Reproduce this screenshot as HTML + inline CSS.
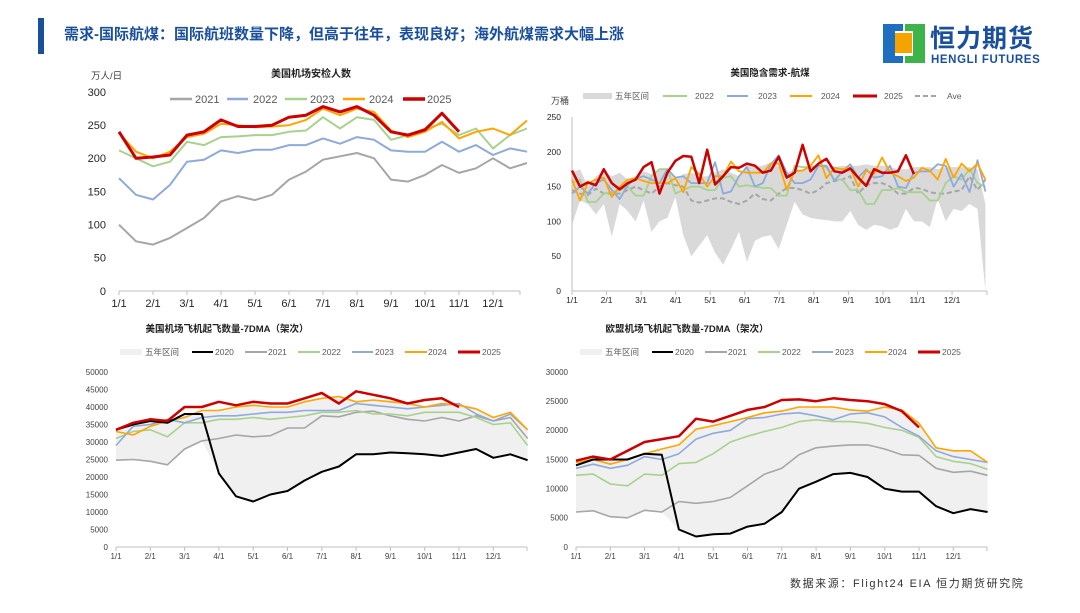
<!DOCTYPE html>
<html><head><meta charset="utf-8">
<style>
html,body{margin:0;padding:0;background:#fff;}
body{width:1080px;height:608px;overflow:hidden;position:relative;font-family:"Liberation Sans","Noto Sans CJK SC",sans-serif;}
svg text{font-family:"Liberation Sans","Noto Sans CJK SC",sans-serif;}
</style></head>
<body>
<svg id="main" width="1080" height="608" viewBox="0 0 1080 608" xmlns="http://www.w3.org/2000/svg">
  <rect x="38" y="18" width="6" height="36" fill="#1a4f9c"/>
  <text x="64" y="39" font-size="15" font-weight="bold" fill="#1a4f9c">需求-国际航煤：国际航班数量下降，但高于往年，表现良好；海外航煤需求大幅上涨</text>
  <g>
    <rect x="883" y="24" width="12" height="39" fill="#1f6fc0"/>
    <rect x="883" y="24" width="20" height="7" fill="#1f6fc0"/>
    <rect x="883" y="56" width="20" height="7" fill="#1f6fc0"/>
    <rect x="913" y="24" width="12" height="39" fill="#3cb44a"/>
    <rect x="905" y="24" width="20" height="7" fill="#3cb44a"/>
    <rect x="905" y="56" width="20" height="7" fill="#3cb44a"/>
    <rect x="895" y="33" width="17" height="20" fill="#f5a300"/>
    <text x="930" y="47" font-size="25" font-weight="bold" fill="#1a4f9c" letter-spacing="1">恒力期货</text>
    <text x="931" y="63" font-size="11.5" font-weight="bold" fill="#1a4f9c" letter-spacing="0.6">HENGLI FUTURES</text>
  </g>
  <text x="790" y="587" font-size="11" fill="#333" letter-spacing="1.6">数据来源：Flight24 EIA 恒力期货研究院</text>
  <g id="c1"></g>
  <g id="c2"></g>
  <g id="c3"></g>
  <g id="c4"></g>
</svg>
<script>
// ---------- shared categories ----------
const monthLabels = ["1/1","2/1","3/1","4/1","5/1","6/1","7/1","8/1","9/1","10/1","11/1","12/1"];
// semi-monthly sample grid (month index 0..12, step 0.5) for charts 1,3,4
const halfMonthT = [0,0.5,1,1.5,2,2.5,3,3.5,4,4.5,5,5.5,6,6.5,7,7.5,8,8.5,9,9.5,10,10.5,11,11.5,12];

// ---------- chart 1: US airport screening (万人/日) ----------
const c1Ticks = [0,50,100,150,200,250,300];
const c1_2021 = [100,75,70,80,95,110,135,143,137,145,168,180,198,203,208,200,168,165,175,190,178,185,200,185,193];
const c1_2022 = [170,145,138,160,195,198,212,208,213,213,220,220,230,222,232,228,212,210,210,225,210,220,205,215,210];
const c1_2023 = [212,200,188,195,225,220,232,233,235,235,240,242,262,245,262,258,228,235,245,252,235,245,215,235,245];
const c1_2024 = [238,210,200,210,232,237,252,250,247,248,250,258,275,265,275,270,242,232,240,255,230,240,245,235,257];
const c1_2025 = [240,200,202,205,235,240,258,248,248,250,262,265,278,270,278,265,240,235,243,268,240];

// ---------- chart 2: US implied jet fuel demand (万桶), weekly ----------
const c2Ticks = [0,50,100,150,200,250];
const c2_2022 = [155,160,128,128,140,142,145,150,137,137,165,175,175,140,145,150,150,145,145,163,165,150,152,150,148,148,137,137,180,178,178,180,178,160,160,145,145,125,125,145,145,148,142,142,142,130,130,155,165,160,175,155,150];
const c2_2023 = [140,150,140,155,160,145,132,152,162,165,160,155,175,163,165,155,155,155,185,140,143,165,178,150,155,182,195,170,155,155,160,180,180,158,172,182,163,175,163,165,180,150,148,170,172,172,182,180,150,168,142,188,143];
const c2_2024 = [160,130,155,160,163,135,150,160,162,158,155,155,155,162,142,178,168,150,165,165,186,172,170,170,170,183,183,146,172,173,180,195,162,177,175,177,150,173,168,192,170,165,158,163,177,173,160,190,163,183,172,183,160];
const c2_2025 = [173,150,156,152,175,155,146,155,160,178,185,140,170,187,194,193,155,203,153,165,178,177,183,180,170,173,193,163,170,210,172,183,190,172,170,176,163,151,175,170,170,172,195,168];
const c2_ave  = [145,140,138,147,140,140,140,145,150,145,140,150,155,152,150,130,127,130,133,133,128,125,130,140,132,130,140,148,148,145,140,145,155,158,160,165,140,152,155,155,150,140,140,148,147,142,140,140,143,145,165,145,160];
const c2_bandHi = [170,175,150,165,172,165,170,160,165,172,168,175,175,160,168,170,165,165,170,175,170,165,182,178,180,185,178,170,175,175,180,180,180,178,180,180,180,182,180,180,178,175,175,178,178,178,175,178,178,178,178,175,125];
const c2_bandLo = [95,130,125,110,125,78,125,115,100,130,85,100,105,135,80,50,65,80,55,38,60,85,42,72,78,80,60,95,128,110,105,103,102,100,100,115,95,88,95,93,88,92,118,100,100,92,132,100,118,115,125,118,0];

// ---------- chart 3: US flights 7DMA ----------
const c3Ticks = [0,5000,10000,15000,20000,25000,30000,35000,40000,45000,50000];
const c3_2020 = [33500,35000,36000,35500,38000,38000,21000,14500,13000,15000,16000,19000,21500,23000,26500,26500,27000,26800,26500,26000,27000,28000,25500,26500,24800];
const c3_2021 = [24800,25000,24500,23500,28000,30300,31000,32000,31500,31800,34000,34000,37500,37200,38500,38800,37500,36500,36000,37000,36000,37500,36000,37000,31000];
const c3_2022 = [31000,33000,33500,31500,35500,35500,36500,36500,37000,36500,37000,37500,38500,38500,39000,38000,38000,37500,38500,38500,38500,37000,35000,35500,29000];
const c3_2023 = [29000,34500,35000,36500,35500,37000,37500,37500,38000,38500,38500,39000,39000,39000,41000,40500,40000,39500,40000,40500,41000,38000,36000,38000,33500];
const c3_2024 = [33000,32000,34500,36000,37000,39000,39000,40000,40500,40000,40000,41500,42500,43000,41500,42000,41500,41000,40000,41000,40500,39500,37000,38500,33500];
const c3_2025 = [33500,35500,36500,36000,40000,40000,41500,40500,41500,41000,41000,42500,44000,41000,44500,43500,42500,41000,42000,42500,40000];

// ---------- chart 4: EU flights 7DMA ----------
const c4Ticks = [0,5000,10000,15000,20000,25000,30000];
const c4_2020 = [14000,15000,15000,15000,16000,15800,3000,1800,2200,2300,3500,4000,6000,10000,11200,12500,12700,12000,10000,9500,9500,7000,5800,6500,6000];
const c4_2021 = [6000,6200,5200,5000,6300,6000,7800,7500,7800,8500,10500,12500,13500,15800,17000,17300,17500,17500,16800,15800,15700,13500,12800,13000,12300];
const c4_2022 = [12300,12500,10800,10500,12500,12300,14300,14500,16000,18000,19000,19800,20500,21500,21800,21500,21500,21200,20500,20000,18800,15500,14700,14300,13300];
const c4_2023 = [13500,14200,13500,14000,15500,15000,16000,18500,19500,20000,22000,22200,22800,23000,22500,21800,22800,23000,22300,20500,19000,16500,15500,15000,14500];
const c4_2024 = [14500,15000,14200,15000,16000,16800,17500,20200,20800,21500,22200,23000,23300,24000,24000,24000,23500,23300,24000,23500,21200,17000,16500,16500,14500];
const c4_2025 = [14800,15500,15000,16500,18000,18500,19000,22000,21500,22500,23500,24000,25200,25300,25000,25500,25200,25000,24500,23300,20500];

const NS = "http://www.w3.org/2000/svg";
function mk(parent, tag, attrs){
  const e = document.createElementNS(NS, tag);
  for (const k in attrs) e.setAttribute(k, attrs[k]);
  parent.appendChild(e);
  return e;
}
function axisX(x0, mw){ return t => x0 + t * mw; }
function axisY(y0, y1, vmax){ return v => y0 - (v / vmax) * (y0 - y1); }
function pathFrom(ts, vs, sx, sy){
  let d = "";
  for (let i = 0; i < vs.length; i++){
    if (vs[i] == null) continue;
    d += (d ? "L" : "M") + sx(ts[i]).toFixed(1) + "," + sy(vs[i]).toFixed(1);
  }
  return d;
}
function drawLine(g, name, ts, vs, sx, sy, color, w, dash){
  const p = mk(g, "path", {d: pathFrom(ts, vs, sx, sy), fill: "none", stroke: color, "stroke-width": w, "stroke-linejoin": "round"});
  if (dash) p.setAttribute("stroke-dasharray", dash);
  
  
  return p;
}
function drawBand(g, name, ts, hi, lo, sx, sy, color){
  let d = "";
  for (let i = 0; i < hi.length; i++) d += (i ? "L" : "M") + sx(ts[i]).toFixed(1) + "," + sy(hi[i]).toFixed(1);
  for (let i = lo.length - 1; i >= 0; i--) d += "L" + sx(ts[i]).toFixed(1) + "," + sy(lo[i]).toFixed(1);
  d += "Z";
  const p = mk(g, "path", {d: d, fill: color, stroke: "none"});
  
  
}
function drawAxes(g, o){
  const sx = o.sx, sy = o.sy;
  const ax = mk(g, "line", {x1: o.xa, y1: sy(0), x2: o.xb, y2: sy(0), stroke: "#bfbfbf", "stroke-width": 1});
  
  
  if (o.yAxisLine){
    const ay = mk(g, "line", {x1: o.xa, y1: sy(0), x2: o.xa, y2: sy(o.ticks[o.ticks.length-1]), stroke: "#bfbfbf", "stroke-width": 1});
    
    
  }
  for (let i = 0; i < monthLabels.length; i++){
    const x = sx(i);
    mk(g, "line", {x1: x, y1: sy(0), x2: x, y2: sy(0) + 4, stroke: "#bfbfbf", "stroke-width": 1});
    const t = mk(g, "text", {x: x, y: o.xLabelY, "font-size": o.fs, fill: o.tc, "text-anchor": "middle"});
    t.textContent = monthLabels[i];
    
    
  }
  mk(g, "line", {x1: o.xb, y1: sy(0), x2: o.xb, y2: sy(0) + 4, stroke: "#bfbfbf", "stroke-width": 1});
  for (const v of o.ticks){
    const t = mk(g, "text", {x: o.yLabelX, y: sy(v) + o.fs * 0.35, "font-size": o.fs, fill: o.tc, "text-anchor": "end"});
    t.textContent = v;
    
    
  }
}
function legendLine(g, x1, x2, y, color, w, label, tx, fs, dash){
  const lg = mk(g, "g", {});
  
  
  const l = mk(lg, "line", {x1: x1, y1: y, x2: x2, y2: y, stroke: color, "stroke-width": w});
  if (dash) l.setAttribute("stroke-dasharray", dash);
  const t = mk(lg, "text", {x: tx, y: y + fs * 0.36, "font-size": fs, fill: "#595959"});
  t.textContent = label;
}
function legendBox(g, x1, x2, y, color, label, tx, fs){
  const lg = mk(g, "g", {});
  
  
  mk(lg, "rect", {x: x1, y: y - 3, width: x2 - x1, height: 6, fill: color});
  const t = mk(lg, "text", {x: tx, y: y + fs * 0.36, "font-size": fs, fill: "#595959"});
  t.textContent = label;
}
function title(g, x, y, s, fs){
  const t = mk(g, "text", {x: x, y: y, "font-size": fs, "font-weight": "bold", fill: "#222", "text-anchor": "middle"});
  t.textContent = s;
  
  
}
function unit(g, x, y, s, fs){
  const t = mk(g, "text", {x: x, y: y, "font-size": fs, fill: "#404040"});
  t.textContent = s;
  
  
}

const C = {grey: "#a6a6a6", blue: "#8eaadb", green: "#a9d18e", orange: "#ffa500", red: "#cc0000", black: "#000"};

// ===== chart 1 =====
(function(){
  const g = document.getElementById("c1");
  const sx = axisX(119, 34), sy = axisY(291, 92, 300);
  title(g, 311, 77, "美国机场安检人数", 10);
  unit(g, 91, 79, "万人/日", 9.5);
  drawAxes(g, {sx, sy, xa: 119, xb: 520, ticks: c1Ticks, xLabelY: 307, yLabelX: 106, fs: 11, tc: "#262626"});
  legendLine(g, 170, 192, 99, C.grey, 2.5, "2021", 195, 11);
  legendLine(g, 227, 248, 99, C.blue, 2.5, "2022", 253, 11);
  legendLine(g, 285, 307, 99, C.green, 2.5, "2023", 310, 11);
  legendLine(g, 343, 365, 99, C.orange, 2.5, "2024", 369, 11);
  legendLine(g, 403, 425, 99, C.red, 3.5, "2025", 427, 11);
  drawLine(g, "series-2021", halfMonthT, c1_2021, sx, sy, C.grey, 2);
  drawLine(g, "series-2022", halfMonthT, c1_2022, sx, sy, C.blue, 2);
  drawLine(g, "series-2023", halfMonthT, c1_2023, sx, sy, C.green, 2);
  drawLine(g, "series-2024", halfMonthT, c1_2024, sx, sy, C.orange, 2);
  drawLine(g, "series-2025", halfMonthT, c1_2025, sx, sy, C.red, 3);
})();

// ===== chart 2 =====
(function(){
  const g = document.getElementById("c2");
  const sx = axisX(572, 34.55), sy = axisY(291, 117, 250);
  const wk = c2_bandHi.map((_, i) => i * 7 / 30.42);
  title(g, 770, 76, "美国隐含需求-航煤", 9.5);
  unit(g, 551, 104, "万桶", 9);
  drawBand(g, "five-year-range", wk, c2_bandHi, c2_bandLo, sx, sy, "#d9d9d9");
  drawAxes(g, {sx, sy, xa: 572, xb: 987, ticks: c2Ticks, xLabelY: 303, yLabelX: 561, fs: 8.5, tc: "#262626", yAxisLine: true});
  legendBox(g, 583, 612, 96, "#d9d9d9", "五年区间", 615, 8.5);
  legendLine(g, 663, 687, 96, C.green, 2, "2022", 695, 8.5);
  legendLine(g, 727, 748, 96, C.blue, 2, "2023", 758, 8.5);
  legendLine(g, 790, 812, 96, C.orange, 2, "2024", 821, 8.5);
  legendLine(g, 853, 877, 96, C.red, 3, "2025", 884, 8.5);
  legendLine(g, 915, 938, 96, "#a6a6a6", 2, "Ave", 947, 8.5, "5,3");
  drawLine(g, "series-ave", wk, c2_ave, sx, sy, "#a6a6a6", 2, "5,3");
  drawLine(g, "series-2022", wk, c2_2022, sx, sy, C.green, 1.8);
  drawLine(g, "series-2023", wk, c2_2023, sx, sy, C.blue, 1.8);
  drawLine(g, "series-2024", wk, c2_2024, sx, sy, C.orange, 1.8);
  drawLine(g, "series-2025", wk, c2_2025, sx, sy, C.red, 2.5);
})();

// ===== charts 3 & 4 =====
function flightChart(id, ox, ticks, vmax, ttl, d2020, d2021, d2022, d2023, d2024, d2025){
  const g = document.getElementById(id);
  const sx = axisX(ox + 116, 34.3), sy = axisY(547, 372, vmax);
  title(g, ox + 227, 332, ttl, 9.5);
  const hi = d2020.map((v, i) => Math.max(v, d2021[i], d2022[i], d2023[i], d2024[i]));
  const lo = d2020.map((v, i) => Math.min(v, d2021[i], d2022[i], d2023[i], d2024[i]));
  drawBand(g, "five-year-range", halfMonthT, hi, lo, sx, sy, "#f0f0f0");
  drawAxes(g, {sx, sy, xa: ox + 116, xb: ox + 527, ticks: ticks, xLabelY: 559, yLabelX: ox + 108, fs: 8, tc: "#404040"});
  legendBox(g, ox + 120, ox + 142, 352, "#f0f0f0", "五年区间", ox + 145, 8.5);
  legendLine(g, ox + 192, ox + 213, 352, C.black, 2, "2020", ox + 215, 8.5);
  legendLine(g, ox + 245, ox + 267, 352, C.grey, 2, "2021", ox + 268, 8.5);
  legendLine(g, ox + 298, ox + 320, 352, C.green, 2, "2022", ox + 322, 8.5);
  legendLine(g, ox + 352, ox + 373, 352, C.blue, 2, "2023", ox + 375, 8.5);
  legendLine(g, ox + 405, ox + 427, 352, C.orange, 2, "2024", ox + 428, 8.5);
  legendLine(g, ox + 458, ox + 480, 352, C.red, 3, "2025", ox + 482, 8.5);
  drawLine(g, "series-2021", halfMonthT, d2021, sx, sy, C.grey, 1.6);
  drawLine(g, "series-2022", halfMonthT, d2022, sx, sy, C.green, 1.6);
  drawLine(g, "series-2023", halfMonthT, d2023, sx, sy, C.blue, 1.6);
  drawLine(g, "series-2024", halfMonthT, d2024, sx, sy, C.orange, 1.6);
  drawLine(g, "series-2020", halfMonthT, d2020, sx, sy, C.black, 2);
  drawLine(g, "series-2025", halfMonthT, d2025, sx, sy, C.red, 2.5);
}
flightChart("c3", 0, c3Ticks, 50000, "美国机场飞机起飞数量-7DMA（架次）", c3_2020, c3_2021, c3_2022, c3_2023, c3_2024, c3_2025);
flightChart("c4", 460, c4Ticks, 30000, "欧盟机场飞机起飞数量-7DMA（架次）", c4_2020, c4_2021, c4_2022, c4_2023, c4_2024, c4_2025);
</script>
</body></html>
